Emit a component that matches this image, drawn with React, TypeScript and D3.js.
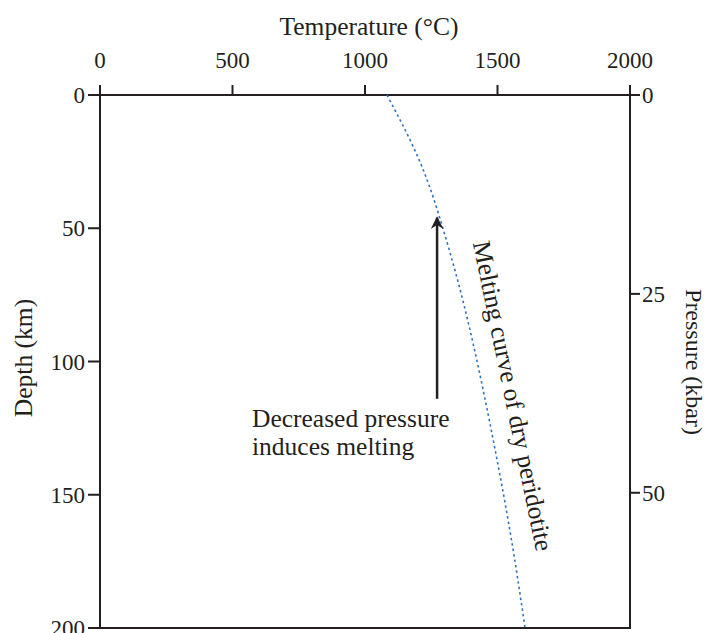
import React from "react";
import * as d3 from "d3";

// melting curve of dry peridotite
const depthKm = [0, 25, 50, 75, 100, 125, 150, 175, 200];
const meltTempC = [1083, 1207, 1294, 1364, 1423, 1475, 1523, 1566, 1604];

const tempTicks = [0, 500, 1000, 1500, 2000];
const depthTicks = [0, 50, 100, 150, 200];
const pressureTicks = [0, 25, 50];

// arrow: from (temp, depth) to (temp, depth)
const arrowFrom = [1272, 114];
const arrowTo = [1272, 46];

const width = 711;
const height = 633;
const margin = { top: 95, right: 81, bottom: 5, left: 100 };
const innerWidth = width - margin.left - margin.right;
const innerHeight = height - margin.top - margin.bottom;

const font = "'Liberation Serif', 'Times New Roman', serif";
const ink = "#231f20";
const labelSize = 25.5;
const tickSize = 23;

export default function App() {
  const x = d3.scaleLinear().domain([0, 2000]).range([0, innerWidth]);
  const y = d3.scaleLinear().domain([0, 200]).range([0, innerHeight]);
  const yP = d3.scaleLinear().domain([0, 67]).range([0, innerHeight]);

  const line = d3
    .line<number>()
    .x((d, i) => x(meltTempC[i]))
    .y((d) => y(d))
    .curve(d3.curveNatural);

  return (
    <svg
      width={width}
      height={height}
      style={{ position: "absolute", left: 0, top: 0, background: "#fff" }}
      fontFamily={font}
    >
      <defs>
        <marker
          id="head"
          viewBox="0 0 10 10"
          refX="9"
          refY="5"
          markerWidth="5"
          markerHeight="5"
          orient="auto"
        >
          <path d="M0,0 L10,5 L0,10 L3,5 z" fill={ink} />
        </marker>
      </defs>
      <text x={369} y={35} textAnchor="middle" fontSize={labelSize} fill={ink}>
        Temperature (°C)
      </text>
      <text
        transform="translate(32,358) rotate(-90)"
        textAnchor="middle"
        fontSize={labelSize}
        fill={ink}
      >
        Depth (km)
      </text>
      <text
        transform="translate(686,362) rotate(90)"
        textAnchor="middle"
        fontSize={24}
        fill={ink}
      >
        Pressure (kbar)
      </text>
      <g transform={`translate(${margin.left},${margin.top})`}>
        <rect
          width={innerWidth}
          height={innerHeight}
          fill="none"
          stroke={ink}
          strokeWidth={2}
        />
        {tempTicks.map((t) => (
          <g key={t} transform={`translate(${x(t)},0)`}>
            <line y1={0} y2={-10} stroke={ink} strokeWidth={2} />
            <text y={-27} textAnchor="middle" fontSize={tickSize} fill={ink}>
              {t}
            </text>
          </g>
        ))}
        {depthTicks.map((t) => (
          <g key={t} transform={`translate(0,${y(t)})`}>
            <line x1={0} x2={-12} stroke={ink} strokeWidth={2} />
            <text x={-15} dy="0.35em" textAnchor="end" fontSize={tickSize} fill={ink}>
              {t}
            </text>
          </g>
        ))}
        {pressureTicks.map((t) => (
          <g key={t} transform={`translate(${innerWidth},${yP(t)})`}>
            <line x1={0} x2={10} stroke={ink} strokeWidth={2} />
            <text x={12} dy="0.35em" textAnchor="start" fontSize={tickSize} fill={ink}>
              {t}
            </text>
          </g>
        ))}
        <path
          d={line(depthKm) || ""}
          fill="none"
          stroke="#2f72c0"
          strokeWidth={1.6}
          strokeDasharray="2.5,3"
        />
        <line
          x1={x(arrowFrom[0])}
          y1={y(arrowFrom[1])}
          x2={x(arrowTo[0])}
          y2={y(arrowTo[1])}
          stroke={ink}
          strokeWidth={2.5}
          markerEnd="url(#head)"
        />
        <text x={152} y={332} fontSize={labelSize} fill={ink}>
          Decreased pressure
        </text>
        <text x={152} y={360} fontSize={labelSize} fill={ink}>
          induces melting
        </text>
        <text
          transform={`translate(${x(1555)},${y(113)}) rotate(78.4)`}
          textAnchor="middle"
          dy="0.3em"
          fontSize={labelSize}
          fill={ink}
        >
          Melting curve of dry peridotite
        </text>
      </g>
    </svg>
  );
}
